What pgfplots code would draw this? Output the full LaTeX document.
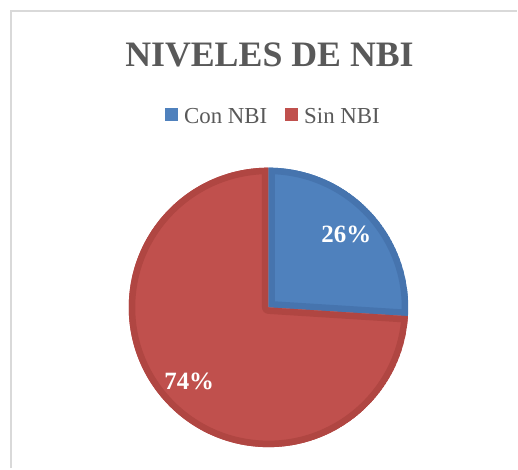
\documentclass[border=0pt]{standalone}
\usepackage{pgfplots}
\pgfplotsset{compat=1.18}
\usepackage{pgfplotstable}
\usetikzlibrary{calc}
\usepackage{fontspec}
\setmainfont{Liberation Serif}
\definecolor{conblue}{HTML}{4F81BD}
\definecolor{conblueD}{HTML}{4674AE}
\definecolor{sinred}{HTML}{C0504D}
\definecolor{sinredD}{HTML}{B04642}
\definecolor{titlegray}{HTML}{595959}
\definecolor{framegray}{HTML}{D9D9D9}
\pgfplotstableread[col sep=comma]{
label,value
Con NBI,26
Sin NBI,74
}\piedata
\pgfplotstablegetelem{0}{value}\of\piedata \let\vA\pgfplotsretval
\pgfplotstablegetelem{1}{value}\of\piedata \let\vB\pgfplotsretval
\pgfmathsetmacro\aEnd{90-\vA*3.6}
\pgfmathsetmacro\aMid{90-\vA*1.8}
\pgfmathsetmacro\bEnd{\aEnd-\vB*3.6}
\pgfmathsetmacro\bMid{\aEnd-\vB*1.8}
\begin{document}
\begin{tikzpicture}
\begin{axis}[
  width=518bp, height=469bp, scale only axis,
  xmin=0, xmax=518, ymin=0, ymax=469,
  hide axis, clip=false,
  legend columns=2,
  legend style={at={(axis cs:274,352)}, anchor=center, draw=none, fill=none,
    font=\fontsize{23}{25}\selectfont, text=titlegray,
    /tikz/every even column/.append style={column sep=16bp}},
  legend image code/.code={\fill[#1, draw=none] (0bp,-4bp) rectangle (13bp,9bp); \path[draw=none, fill=none] (0bp,0bp) rectangle (17bp,0.1bp);},
]
\path (axis cs:0,0) rectangle (axis cs:518,469);
\draw[framegray, line width=2bp] (axis cs:11.5,0) -- (axis cs:11.5,458) -- (axis cs:518,458);
\addlegendimage{fill=conblue, draw=none}
\addlegendentry{Con NBI}
\addlegendimage{fill=sinred, draw=none}
\addlegendentry{Sin NBI}
\pgfplotsextra{
  \begin{scope}
    \clip (axis cs:269,161) -- ++(90:140bp) arc[start angle=90, end angle=\aEnd, radius=140bp] -- cycle;
    \fill[conblue] (axis cs:269,161) -- ++(90:140bp) arc[start angle=90, end angle=\aEnd, radius=140bp] -- cycle;
    \draw[conblueD, line width=13bp, line join=round] (axis cs:269,161) -- ++(90:140bp) arc[start angle=90, end angle=\aEnd, radius=140bp] -- cycle;
  \end{scope}
  \begin{scope}
    \clip (axis cs:269,161) -- ++(\aEnd:140bp) arc[start angle=\aEnd, end angle=\bEnd, radius=140bp] -- cycle;
    \fill[sinred] (axis cs:269,161) -- ++(\aEnd:140bp) arc[start angle=\aEnd, end angle=\bEnd, radius=140bp] -- cycle;
    \draw[sinredD, line width=13bp, line join=round] (axis cs:269,161) -- ++(\aEnd:140bp) arc[start angle=\aEnd, end angle=\bEnd, radius=140bp] -- cycle;
  \end{scope}
  \node[white, font=\bfseries\fontsize{25}{28}\selectfont] at ($(axis cs:269,161)+(\aMid:107bp)$) {\vA\%};
  \node[white, font=\bfseries\fontsize{25}{28}\selectfont] at ($(axis cs:269,161)+(\bMid:109bp)$) {\vB\%};
}
\node[anchor=base, text=titlegray, font=\bfseries\fontsize{36}{40}\selectfont] at (axis cs:270,402) {NIVELES DE NBI};
\end{axis}
\end{tikzpicture}
\end{document}
